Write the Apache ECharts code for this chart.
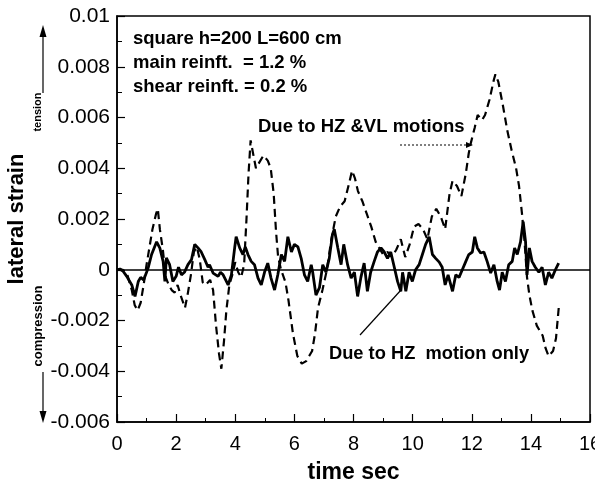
<!DOCTYPE html>
<html>
<head>
<meta charset="utf-8">
<script src="https://cdn.jsdelivr.net/npm/echarts@6/dist/echarts.min.js"></script>
<style>html,body{margin:0;padding:0;background:#fff}#c{width:595px;height:484px}</style>
</head>
<body>
<div id="c"></div>
<script>
// ---- data ----
const timeHZVL = [0,0.2,0.35,0.5,0.6,0.7,0.8,0.9,1.0,1.1,1.2,1.32,1.38,1.45,1.55,1.65,1.75,1.85,1.95,2.05,2.15,2.3,2.4,2.5,2.6,2.7,2.8,2.9,3.0,3.15,3.25,3.35,3.45,3.53,3.62,3.7,3.8,3.9,4.0,4.1,4.2,4.3,4.38,4.45,4.52,4.6,4.7,4.8,4.95,5.1,5.2,5.3,5.38,5.45,5.55,5.7,5.8,5.95,6.1,6.25,6.4,6.5,6.6,6.7,6.8,6.95,7.1,7.25,7.4,7.55,7.7,7.85,7.95,8.05,8.15,8.3,8.45,8.6,8.75,8.9,9.0,9.15,9.3,9.45,9.6,9.75,9.9,10.05,10.2,10.35,10.5,10.65,10.8,10.95,11.1,11.25,11.35,11.5,11.65,11.8,11.9,11.97,12.1,12.2,12.35,12.45,12.6,12.75,12.8,12.9,13.05,13.2,13.35,13.5,13.6,13.7,13.78,13.87,13.95,14.05,14.2,14.4,14.5,14.6,14.75,14.85,14.95];
const strainHZVL = [0,0,-0.0002,-0.0008,-0.0014,-0.0016,-0.0013,-0.0006,0.0002,0.0009,0.0016,0.0022,0.0024,0.0016,0.0008,-0.0003,-0.0006,-0.0008,-0.0009,-0.0006,-0.001,-0.0015,-0.0009,-0.0002,0.0007,0.0009,0.0004,-0.0005,-0.0006,-0.0004,-0.0008,-0.0022,-0.0033,-0.0039,-0.0028,-0.0016,-0.0006,-0.0002,0.0003,-0.0001,-0.0003,0.0002,0.002,0.0038,0.0051,0.0046,0.004,0.0042,0.0045,0.0043,0.004,0.003,0.0015,0.0005,0,-0.0005,-0.0012,-0.0025,-0.0034,-0.0037,-0.0036,-0.0034,-0.0032,-0.0025,-0.0015,-0.0008,0,0.0012,0.0021,0.0025,0.0027,0.0034,0.0039,0.0036,0.0031,0.0027,0.0022,0.0017,0.0011,0.0008,0.0006,0.0007,0.0005,0.0008,0.0012,0.0005,0.001,0.0017,0.0018,0.0016,0.0012,0.0021,0.0024,0.0021,0.0016,0.003,0.0035,0.0033,0.0029,0.0038,0.0046,0.005,0.0056,0.0061,0.0059,0.0061,0.0067,0.0075,0.0077,0.0074,0.0065,0.0055,0.0047,0.004,0.0033,0.0022,0.0012,-0.0003,-0.001,-0.0016,-0.0022,-0.0026,-0.0031,-0.0034,-0.0032,-0.0027,-0.0014];
const timeHZ = [0,0.1,0.2,0.33,0.5,0.61,0.72,0.8,0.9,1.0,1.06,1.17,1.34,1.45,1.56,1.62,1.67,1.78,1.89,2.0,2.08,2.18,2.28,2.4,2.52,2.63,2.74,2.85,2.97,3.08,3.13,3.25,3.42,3.5,3.59,3.76,3.87,3.98,4.03,4.15,4.26,4.34,4.43,4.54,4.65,4.77,4.88,4.99,5.1,5.21,5.33,5.44,5.56,5.67,5.78,5.9,6.0,6.12,6.23,6.34,6.45,6.57,6.62,6.73,6.85,6.96,7.07,7.18,7.29,7.35,7.47,7.58,7.67,7.8,7.92,8.03,8.14,8.25,8.36,8.47,8.58,8.7,8.81,8.93,9.04,9.15,9.26,9.38,9.49,9.6,9.66,9.77,9.88,9.99,10.1,10.22,10.33,10.44,10.56,10.67,10.78,10.9,11.0,11.1,11.2,11.35,11.46,11.57,11.68,11.8,11.9,12.02,12.1,12.19,12.3,12.41,12.52,12.64,12.75,12.86,12.94,13.03,13.14,13.25,13.37,13.45,13.54,13.65,13.74,13.82,13.87,13.95,14.04,14.15,14.27,14.38,14.49,14.6,14.71,14.83,14.94];
const strainHZ = [0,0.00003,-0.00005,-0.00026,-0.0006,-0.00105,-0.00046,-0.0003,-0.0004,-0.0001,0.0001,0.0006,0.0011,0.00085,0.00033,-0.00046,0.00047,0.0002,-0.00046,-0.00026,0.0001,-0.0002,-0.0001,0.0002,0.0004,0.001,0.00086,0.0007,0.0004,0.0001,0.0002,-0.00013,-0.00026,-0.0001,-0.0002,-0.0006,-0.0002,0.00086,0.0013,0.00086,0.0006,0.0009,0.0006,0.00033,0.0002,-0.00033,-0.0006,-0.0001,0.00026,-0.00033,-0.0008,-0.0002,0.0006,0.00033,0.0013,0.0007,0.001,0.0009,0.00045,-0.0002,-0.00046,0.0002,-0.0001,-0.001,-0.0007,0.0002,-0.0001,0.00045,0.0014,0.0016,0.00086,0.0002,0.001,0.0002,-0.00033,-0.0001,-0.00105,-0.0003,0.00026,-0.00085,-0.0001,0.00033,0.0007,0.00086,0.0007,0.00045,0.0007,0.0001,-0.00046,-0.00085,-0.0001,-0.00085,-0.0001,-0.00046,0,0.0002,0.0006,0.001,0.0013,0.0006,0.00045,0.0003,0.0001,-0.0006,-0.0002,-0.00085,-0.0002,-0.0003,0,0.00033,0.0006,0.0007,0.0013,0.00086,0.00066,0.0007,0.00033,-0.00013,0.0002,-0.00046,-0.0008,-0.0001,-0.00046,0.0002,0.00033,0.00086,0.0006,0.0011,0.0019,0.0011,-0.0002,0.00086,0.00033,0.0001,-0.0001,0.0001,-0.0006,-0.0001,-0.00033,0,0.00026];
const xTicks = [0,2,4,6,8,10,12,14,16];
const xTickLabels = ['0','2','4','6','8','10','12','14','16'];
const yTicks = [-0.006,-0.004,-0.002,0,0.002,0.004,0.006,0.008,0.01];
const yTickLabels = ['-0.006','-0.004','-0.002','0','0.002','0.004','0.006','0.008','0.01'];

const FONT = '"Liberation Sans", Arial, Helvetica, sans-serif';
const chart = echarts.init(document.getElementById('c'), null, {renderer: 'canvas'});

function labelFor(ticks, labels, v) {
  for (let i = 0; i < ticks.length; i++) if (Math.abs(ticks[i] - v) < 1e-9) return labels[i];
  return '';
}

const option = {
  animation: false,
  backgroundColor: '#fff',
  grid: {left: 117, right: 5, top: 16, bottom: 62, show: true, borderColor: '#000', borderWidth: 1.5,
    backgroundColor: 'transparent', containLabel: false, outerBoundsMode: 'none'},
  xAxis: {
    type: 'value', min: 0, max: 16, interval: 2,
    name: 'time sec', nameLocation: 'middle', nameGap: 39,
    nameTextStyle: {fontFamily: FONT, fontSize: 23, fontWeight: 'bold', color: '#000'},
    axisLine: {show: true, onZero: false, lineStyle: {color: '#000', width: 1.5}},
    axisTick: {show: true, inside: true, length: 8, lineStyle: {color: '#000', width: 1.2}},
    minorTick: {show: true, splitNumber: 2, length: 4, lineStyle: {color: '#000', width: 1}},
    axisLabel: {fontFamily: FONT, fontSize: 20, color: '#000', margin: 12,
      formatter: v => labelFor(xTicks, xTickLabels, v)},
    splitLine: {show: false}
  },
  yAxis: {
    type: 'value', min: -0.006, max: 0.01, interval: 0.002,
    name: 'lateral strain', nameLocation: 'middle', nameGap: 89, nameRotate: 90,
    nameTextStyle: {fontFamily: FONT, fontSize: 22, fontWeight: 'bold', color: '#000'},
    axisLine: {show: true, onZero: false, lineStyle: {color: '#000', width: 1.5}},
    axisTick: {show: true, inside: true, length: 8, lineStyle: {color: '#000', width: 1.2}},
    minorTick: {show: true, splitNumber: 2, length: 5, lineStyle: {color: '#000', width: 1}},
    axisLabel: {fontFamily: FONT, fontSize: 21, color: '#000', margin: 7,
      formatter: v => labelFor(yTicks, yTickLabels, v)},
    splitLine: {show: false}
  },
  series: [
    {
      name: 'Due to HZ &VL motions', type: 'line', showSymbol: false, symbol: 'none',
      data: timeHZVL.map((t, i) => [t, strainHZVL[i]]),
      lineStyle: {color: '#000', width: 2.2, type: [8, 5]},
      markLine: {
        silent: true, symbol: 'none', label: {show: false},
        lineStyle: {color: '#000', width: 1.5, type: 'solid'},
        data: [{yAxis: 0}]
      },
      z: 2
    },
    {
      name: 'Due to HZ motion only', type: 'line', showSymbol: false, symbol: 'none',
      data: timeHZ.map((t, i) => [t, strainHZ[i]]),
      lineStyle: {color: '#000', width: 2.8, type: 'solid'},
      z: 3
    }
  ],
  graphic: [
    {type: 'text', left: 133, top: 29, style: {text: 'square h=200 L=600 cm', font: 'bold 18.5px ' + FONT, fill: '#000'}},
    {type: 'text', left: 133, top: 53, style: {text: 'main reinft.  = 1.2 %', font: 'bold 18.5px ' + FONT, fill: '#000'}},
    {type: 'text', left: 133, top: 77, style: {text: 'shear reinft. = 0.2 %', font: 'bold 18.5px ' + FONT, fill: '#000'}},
    {type: 'text', left: 258, top: 117, style: {text: 'Due to HZ &VL motions', font: 'bold 18.5px ' + FONT, fill: '#000'}},
    {type: 'text', left: 329, top: 345, style: {text: 'Due to HZ  motion only', font: 'bold 18.3px ' + FONT, fill: '#000'}},
    {type: 'line', shape: {x1: 400, y1: 145, x2: 468, y2: 145}, style: {stroke: '#000', lineWidth: 1, lineDash: [2, 2]}},
    {type: 'polygon', shape: {points: [[473, 145], [466, 142], [466, 148]]}, style: {fill: '#000'}},
    {type: 'line', shape: {x1: 360, y1: 335, x2: 401, y2: 290}, style: {stroke: '#000', lineWidth: 1.2}},
    {type: 'text', x: 38, y: 112, rotation: Math.PI / 2, style: {text: 'tension', font: 'bold 11px ' + FONT, fill: '#000', align: 'center', verticalAlign: 'middle'}},
    {type: 'text', x: 38, y: 326, rotation: Math.PI / 2, style: {text: 'compression', font: 'bold 13px ' + FONT, fill: '#000', align: 'center', verticalAlign: 'middle'}},
    {type: 'line', shape: {x1: 43, y1: 93, x2: 43, y2: 34}, style: {stroke: '#000', lineWidth: 1.2}},
    {type: 'polygon', shape: {points: [[43, 25], [39.5, 37], [46.5, 37]]}, style: {fill: '#000'}},
    {type: 'line', shape: {x1: 43, y1: 372, x2: 43, y2: 412}, style: {stroke: '#000', lineWidth: 1.2}},
    {type: 'polygon', shape: {points: [[43, 423], [39.5, 411], [46.5, 411]]}, style: {fill: '#000'}}
  ]
};
chart.setOption(option);
</script>
</body>
</html>
